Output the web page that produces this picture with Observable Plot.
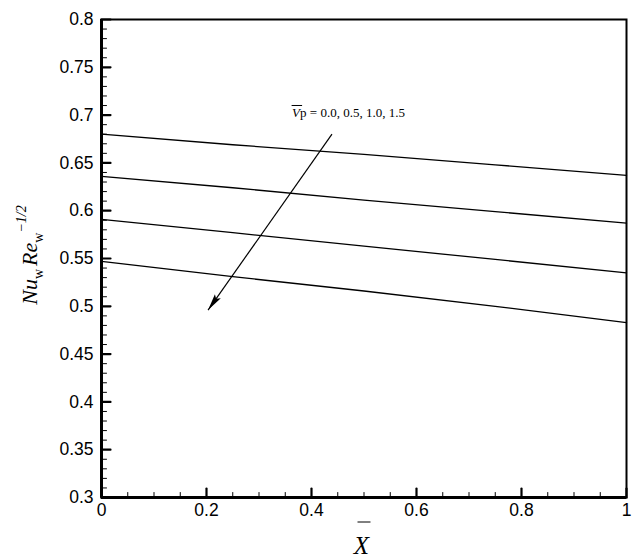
<!DOCTYPE html>
<html>
<head>
<meta charset="utf-8">
<script src="https://cdn.jsdelivr.net/npm/d3@7"></script>
<script src="https://cdn.jsdelivr.net/npm/@observablehq/plot@0.6"></script>
<style>
  html, body { margin: 0; padding: 0; background: #fff; }
  svg { display: block; }
</style>
</head>
<body>
<div id="chart"></div>
<script>
// ---- data ----
const xs = [0, 0.25, 0.5, 0.75, 1];
const vp = ["0.0", "0.5", "1.0", "1.5"];
const nu_vp00 = [0.680, 0.669, 0.659, 0.648, 0.637];
const nu_vp05 = [0.636, 0.624, 0.611, 0.599, 0.587];
const nu_vp10 = [0.591, 0.577, 0.563, 0.549, 0.535];
const nu_vp15 = [0.547, 0.531, 0.516, 0.500, 0.483];
const seriesValues = [nu_vp00, nu_vp05, nu_vp10, nu_vp15];

const xMajor = [0, 0.2, 0.4, 0.6, 0.8, 1];
const xMinor = [0.05, 0.1, 0.15, 0.25, 0.3, 0.35, 0.45, 0.5, 0.55, 0.65, 0.7, 0.75, 0.85, 0.9, 0.95];
const yMajor = [0.3, 0.35, 0.4, 0.45, 0.5, 0.55, 0.6, 0.65, 0.7, 0.75, 0.8];
const yMinor = d3.range(30, 81).filter(v => v % 5 !== 0).map(v => v / 100);

// arrow (annotation) in data coordinates
const arrowFrom = {x: 0.439, y: 0.680};
const arrowTo = {x: 0.203, y: 0.496};
const labelPos = {x: 0.364, y: 0.6975};

const rows = seriesValues.flatMap((vals, i) => vals.map((v, j) => ({x: xs[j], y: v, s: vp[i]})));

function filledArrow(color, context) {
  const m = d3.create("svg:marker")
    .attr("viewBox", "-18 -5 20 10")
    .attr("markerWidth", 20)
    .attr("markerHeight", 10)
    .attr("markerUnits", "userSpaceOnUse")
    .attr("refX", 0)
    .attr("refY", 0)
    .attr("orient", "auto");
  m.append("path").attr("d", "M-17,-3.6L0,0L-17,3.6L-14,0Z").attr("fill", "black").attr("stroke", "none");
  return m.node();
}

const tickShape = {draw(context, l) { context.moveTo(0, 0); context.lineTo(0, -l); }};

const fontSans = "'Liberation Sans', Arial, sans-serif";
const fontSerif = "'Liberation Serif', 'Times New Roman', serif";

const plot = Plot.plot({
  width: 638,
  height: 558,
  marginLeft: 101,
  marginRight: 12,
  marginTop: 19,
  marginBottom: 61,
  style: {fontFamily: fontSans, background: "#fff", color: "#000"},
  x: {domain: [0, 1]},
  y: {domain: [0.3, 0.8]},
  marks: [
    Plot.line(rows, {x: "x", y: "y", z: "s", stroke: "black", strokeWidth: 1.3}),
    Plot.link([0], {x1: () => arrowFrom.x, y1: () => arrowFrom.y, x2: () => arrowTo.x, y2: () => arrowTo.y, stroke: "black", strokeWidth: 1.2, markerEnd: filledArrow}),
    // inward ticks
    Plot.vector(yMajor, {x: () => 0, y: d => d, length: 9, rotate: 90, anchor: "start", shape: tickShape, stroke: "black", strokeWidth: 2.2}),
    Plot.vector(yMinor, {x: () => 0, y: d => d, length: 5, rotate: 90, anchor: "start", shape: tickShape, stroke: "black", strokeWidth: 1}),
    Plot.vector(xMajor, {x: d => d, y: () => 0.3, length: 9, rotate: 0, anchor: "start", shape: tickShape, stroke: "black", strokeWidth: 2.2}),
    Plot.vector(xMinor, {x: d => d, y: () => 0.3, length: 5, rotate: 0, anchor: "start", shape: tickShape, stroke: "black", strokeWidth: 1}),
    Plot.axisY(yMajor, {tickSize: 0, tickPadding: 8, fontSize: 17.5, label: null, tickFormat: d => String(+d.toFixed(2))}),
    Plot.axisX(xMajor, {tickSize: 0, tickPadding: 6, fontSize: 17.5, label: null, tickFormat: d => String(+d.toFixed(1))}),
    Plot.frame({stroke: "black", strokeWidth: 2}),
    Plot.ruleX([0], {stroke: "black", strokeWidth: 3}),
    Plot.ruleY([0.3], {stroke: "black", strokeWidth: 3})
  ]
});

const svg = d3.select(plot);
const sx = plot.scale("x"), sy = plot.scale("y");

// Annotation label: V̄p = 0.0, 0.5, 1.0, 1.5
const lx = sx.apply(labelPos.x), ly = sy.apply(labelPos.y);
const ann = svg.append("text")
  .attr("x", lx).attr("y", ly)
  .attr("text-anchor", "start")
  .attr("font-family", fontSerif).attr("font-size", 13).attr("fill", "#000");
ann.append("tspan").attr("font-style", "italic").text("V");
ann.append("tspan").text("p = " + vp.join(", "));
svg.append("line")
  .attr("x1", lx - 0.5).attr("x2", lx + 10).attr("y1", ly - 11.5).attr("y2", ly - 11.5)
  .attr("stroke", "#000").attr("stroke-width", 1);

// y-axis title: Nu_w Re_w^{-1/2}
const yt = svg.append("text")
  .attr("transform", "translate(37,255) rotate(-90)")
  .attr("text-anchor", "middle")
  .attr("font-family", fontSerif).attr("font-size", 22).attr("fill", "#000");
yt.append("tspan").attr("font-style", "italic").text("Nu");
yt.append("tspan").attr("font-size", 14).attr("dy", 6).text("w");
yt.append("tspan").attr("font-style", "italic").attr("dy", -6).attr("dx", 3).text("Re");
yt.append("tspan").attr("font-size", 14).attr("dy", 6).text("w");
yt.append("tspan").attr("font-size", 14).attr("font-style", "italic").attr("dy", -17).text("\u22121/2");

// x-axis title: X̄
const xc = sx.apply(0.5);
svg.append("text")
  .attr("x", xc - 2).attr("y", 554)
  .attr("text-anchor", "middle")
  .attr("font-family", fontSerif).attr("font-size", 25).attr("font-style", "italic").attr("fill", "#000")
  .text("X");
svg.append("line")
  .attr("x1", xc - 6).attr("x2", xc + 7).attr("y1", 522).attr("y2", 522)
  .attr("stroke", "#000").attr("stroke-width", 1);

document.getElementById("chart").appendChild(plot);
</script>
</body>
</html>
